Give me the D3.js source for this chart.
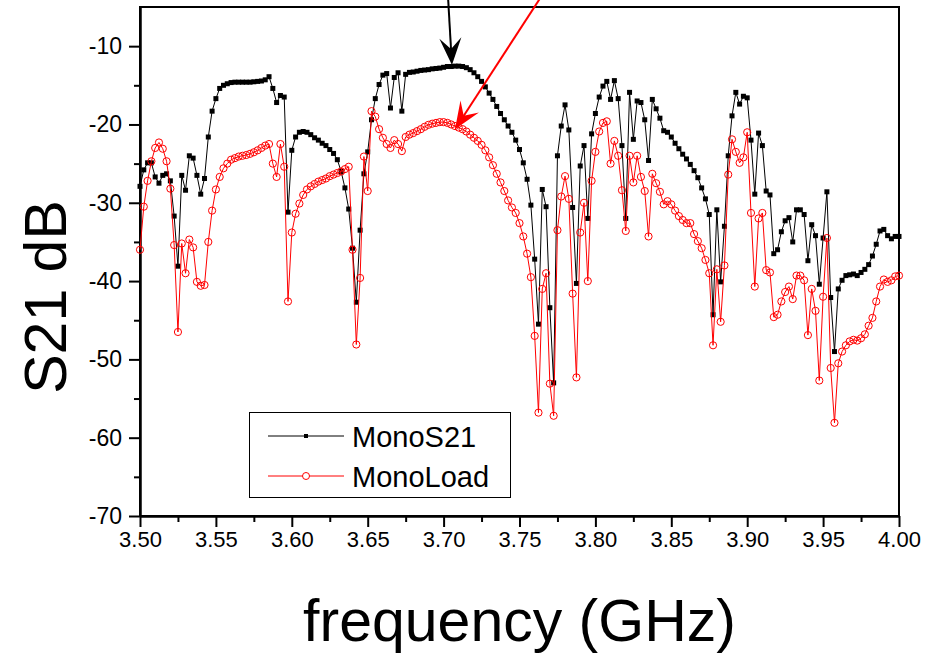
<!DOCTYPE html>
<html>
<head>
<meta charset="utf-8">
<script src="https://cdn.jsdelivr.net/npm/d3@7"></script>
<style>
  body { margin: 0; background: #fff; }
  svg { display: block; font-family: "Liberation Sans", Arial, sans-serif; }
</style>
</head>
<body>
<svg id="chart" width="934" height="653"></svg>
<script>
// frequency grid, GHz (step 2.5 MHz)
const freqs = d3.range(0, 201).map(i => 3.5 + i * 0.0025);

// S21 (dB), one value per grid frequency
const monoS21 = [
  -27.9, -25.8, -24.9, -24.9, -26.7, -27.5, -26.5, -26.3, -27.2, -31.7,
  -38.1, -26.5, -28.4, -24.0, -24.3, -26.5, -28.9, -26.9, -21.6, -18.3,
  -16.7, -15.4, -15.0, -14.8, -14.65, -14.6, -14.6, -14.6, -14.6, -14.6,
  -14.55, -14.5, -14.45, -14.3, -13.9, -15.4, -17.2, -16.3, -16.5, -31.2,
  -23.3, -21.6, -21.0, -20.9, -21.0, -21.3, -21.7, -22.0, -22.4, -22.7,
  -23.2, -23.7, -24.5, -26.0, -28.1, -30.8, -35.8, -42.7, -33.5, -26.3,
  -23.5, -19.4, -16.7, -14.9, -13.7, -13.5, -17.9, -14.0, -13.4, -18.3,
  -13.6, -13.35, -13.3, -13.2, -13.1, -13.05, -13.0, -12.9, -12.85, -12.8,
  -12.7, -12.6, -12.6, -12.55, -12.55, -12.6, -12.75, -13.0, -13.4, -13.9,
  -14.5, -15.2, -16.0, -16.8, -17.7, -18.6, -19.4, -20.2, -21.0, -22.0,
  -23.2, -24.9, -27.0, -30.3, -37.2, -45.5, -28.3, -30.5, -43.4, -53.0,
  -24.0, -20.2, -17.5, -20.7, -30.6, -40.3, -25.3, -22.7, -32.0, -21.2,
  -18.6, -16.5, -15.1, -14.5, -16.8, -14.4, -16.7, -22.7, -32.0, -15.9,
  -21.9, -17.0, -17.2, -19.4, -24.6, -16.8, -18.0, -19.2, -20.8, -21.0,
  -21.6, -22.4, -23.1, -23.8, -24.4, -25.1, -25.9, -26.8, -28.1, -29.5,
  -31.5, -44.3, -30.9, -40.1, -33.0, -24.0, -18.9, -15.9, -17.4, -16.4,
  -16.6, -22.0, -28.9, -21.1, -22.7, -28.5, -29.0, -36.5, -36.0, -33.7,
  -32.3, -31.9, -35.0, -30.9, -30.9, -31.5, -37.4, -32.8, -34.2, -40.4,
  -34.5, -28.6, -42.1, -49.0, -41.0, -39.9, -39.3, -39.2, -39.1, -39.3,
  -38.9, -38.5, -37.9, -36.8, -35.3, -33.6, -33.4, -34.2, -34.6, -34.3,
  -34.3
];

const monoLoad = [
  -36.0, -30.5, -27.2, -24.7, -23.0, -22.3, -23.1, -24.7, -28.2, -35.4,
  -46.5, -35.2, -39.0, -34.7, -35.7, -40.1, -40.6, -40.5, -35.0, -31.0,
  -28.3, -26.7, -25.6, -25.0, -24.5, -24.3, -24.1, -24.0, -23.9, -23.75,
  -23.55, -23.3, -23.0, -22.7, -22.5, -25.0, -26.7, -22.5, -25.4, -42.6,
  -33.8, -31.4, -30.1, -29.0, -28.3, -27.9, -27.6, -27.3, -27.1, -26.9,
  -26.6, -26.4, -26.2, -26.0, -25.7, -25.4, -36.0, -48.1, -39.6, -24.1,
  -28.5, -18.3, -19.0, -20.6, -21.7, -22.5, -23.0, -22.0, -22.5, -23.4,
  -21.6, -21.3, -21.1, -20.85, -20.6, -20.3, -20.05, -19.9, -19.8, -19.7,
  -19.7, -19.8, -20.0, -20.2, -20.4, -20.6, -20.9, -21.3, -21.7, -22.1,
  -22.6, -23.3, -24.2, -25.2, -26.3, -27.4, -28.5, -29.7, -30.6, -31.3,
  -32.6, -34.3, -36.5, -39.5, -47.0, -56.8, -41.0, -39.0, -53.1, -57.2,
  -33.5, -29.2, -26.6, -29.5, -41.6, -52.3, -33.8, -30.0, -40.0, -27.2,
  -23.5, -20.9, -19.8, -19.6, -25.0, -22.1, -24.0, -28.4, -33.6, -24.0,
  -27.4, -24.0, -26.7, -28.5, -34.3, -26.3, -27.5, -28.6, -30.2, -29.8,
  -30.2, -31.0, -31.7, -32.2, -32.6, -32.6, -34.0, -34.9, -35.8, -37.3,
  -39.0, -48.2, -38.5, -45.2, -38.0, -26.4, -21.9, -23.5, -24.9, -24.2,
  -21.0, -31.3, -40.7, -32.0, -31.3, -38.6, -38.9, -44.6, -44.3, -42.6,
  -41.4, -40.7, -42.3, -39.3, -39.3, -39.9, -46.9, -41.0, -43.8, -52.7,
  -42.0, -34.5, -51.1, -58.1, -50.5, -49.0, -48.2, -47.7, -47.5, -47.6,
  -47.3, -46.8, -45.7, -44.7, -42.6, -40.7, -39.8, -40.1, -39.9, -39.4,
  -39.3
];

const xTicks = d3.range(0, 11).map(i => 3.5 + i * 0.05);
const xMinor = d3.range(0, 10).map(i => 3.525 + i * 0.05);
const yTicks = [-70, -60, -50, -40, -30, -20, -10];
const yMinor = [-65, -55, -45, -35, -25, -15];
const seriesNames = ["MonoS21", "MonoLoad"];

// arrows: [tail freq, tail dB, head freq, head dB]
const arrows = [
  { color: "#000", pts: [3.7029, -3.7, 3.7055, -12.4] },
  { color: "#ff0000", pts: [3.7642, -3.7, 3.7075, -20.6] }
];

const width = 934, height = 653;
const margin = { top: 7, right: 35, bottom: 137, left: 140 };

const svg = d3.select("#chart");

const x = d3.scaleLinear().domain([3.5, 4.0]).range([margin.left, width - margin.right]);
const y = d3.scaleLinear().domain([-70, -5]).range([height - margin.bottom, margin.top]);

const s21 = freqs.map((f, i) => ({ f: f, v: monoS21[i] }));
const load = freqs.map((f, i) => ({ f: f, v: monoLoad[i] }));

// frame
svg.append("rect")
  .attr("x", x(3.5)).attr("y", y(-5))
  .attr("width", x(4.0) - x(3.5)).attr("height", y(-70) - y(-5))
  .attr("fill", "none").attr("stroke", "#000").attr("stroke-width", 2);

// axes
const xAxis = svg.append("g")
  .attr("transform", `translate(0,${y(-70)})`)
  .call(d3.axisBottom(x).tickValues(xTicks).tickFormat(d3.format(".2f")).tickSize(11).tickSizeOuter(0).tickPadding(4));
svg.append("g")
  .attr("transform", `translate(0,${y(-70)})`)
  .call(d3.axisBottom(x).tickValues(xMinor).tickFormat("").tickSize(6).tickSizeOuter(0));

// plain hyphen for negatives, as in the original
const yAxis = svg.append("g")
  .attr("transform", `translate(${x(3.5)},0)`)
  .call(d3.axisLeft(y).tickValues(yTicks).tickFormat(d => String(d)).tickSize(11).tickSizeOuter(0).tickPadding(7));
svg.append("g")
  .attr("transform", `translate(${x(3.5)},0)`)
  .call(d3.axisLeft(y).tickValues(yMinor).tickFormat("").tickSize(6).tickSizeOuter(0));

svg.selectAll(".domain").attr("stroke", "#000").attr("stroke-width", 2);
svg.selectAll(".tick line").attr("stroke", "#000").attr("stroke-width", 2);
xAxis.selectAll("text").style("font-size", "22px").attr("fill", "#000");
yAxis.selectAll("text").style("font-size", "23px").attr("fill", "#000");

// axis titles
svg.append("text")
  .attr("x", (x(3.5) + x(4.0)) / 2).attr("y", 641)
  .attr("text-anchor", "middle")
  .style("font-size", "59px")
  .text("frequency (GHz)");

svg.append("text")
  .attr("transform", "translate(66,297) rotate(-90)")
  .attr("text-anchor", "middle")
  .style("font-size", "59px")
  .text("S21 dB");

// series
const line = d3.line().x(d => x(d.f)).y(d => y(d.v));

svg.append("path").datum(s21)
  .attr("d", line).attr("fill", "none").attr("stroke", "#000").attr("stroke-width", 1);
svg.append("g").selectAll("rect").data(s21).enter().append("rect")
  .attr("x", d => x(d.f) - 2.5).attr("y", d => y(d.v) - 2.5)
  .attr("width", 5).attr("height", 5).attr("fill", "#000");

svg.append("path").datum(load)
  .attr("d", line).attr("fill", "none").attr("stroke", "#ff0000").attr("stroke-width", 1);
svg.append("g").selectAll("circle").data(load).enter().append("circle")
  .attr("cx", d => x(d.f)).attr("cy", d => y(d.v)).attr("r", 3.6)
  .attr("fill", "none").attr("stroke", "#ff0000").attr("stroke-width", 1);

// annotation arrows
arrows.forEach(a => {
  const x0 = x(a.pts[0]), y0 = y(a.pts[1]), x1 = x(a.pts[2]), y1 = y(a.pts[3]);
  const len = Math.hypot(x0 - x1, y0 - y1);
  const ux = (x0 - x1) / len, uy = (y0 - y1) / len;
  const px = -uy, py = ux;
  svg.append("line")
    .attr("x1", x0).attr("y1", y0).attr("x2", x1 + ux * 14).attr("y2", y1 + uy * 14)
    .attr("stroke", a.color).attr("stroke-width", 2);
  const head = [
    [x1, y1],
    [x1 + ux * 27 + px * 11, y1 + uy * 27 + py * 11],
    [x1 + ux * 16, y1 + uy * 16],
    [x1 + ux * 27 - px * 11, y1 + uy * 27 - py * 11]
  ];
  svg.append("path")
    .attr("d", "M" + head.map(p => p.join(",")).join("L") + "Z")
    .attr("fill", a.color);
});

// legend
const legend = svg.append("g");
legend.append("rect")
  .attr("x", 249.5).attr("y", 412.5).attr("width", 261).attr("height", 85)
  .attr("fill", "#fff").attr("stroke", "#000").attr("stroke-width", 1);
const legColors = ["#000", "#ff0000"];
seriesNames.forEach((name, i) => {
  const ly = 436 + i * 40;
  legend.append("line")
    .attr("x1", 268).attr("x2", 344).attr("y1", ly).attr("y2", ly)
    .attr("stroke", legColors[i]).attr("stroke-width", 1);
  if (i === 0) {
    legend.append("rect").attr("x", 304).attr("y", ly - 2).attr("width", 4).attr("height", 4).attr("fill", "#000");
  } else {
    legend.append("circle").attr("cx", 306).attr("cy", ly).attr("r", 3.5)
      .attr("fill", "#fff").attr("stroke", "#ff0000").attr("stroke-width", 1);
  }
  legend.append("text")
    .attr("x", 352).attr("y", ly + 11)
    .style("font-size", "29px")
    .text(name);
});
</script>
</body>
</html>
